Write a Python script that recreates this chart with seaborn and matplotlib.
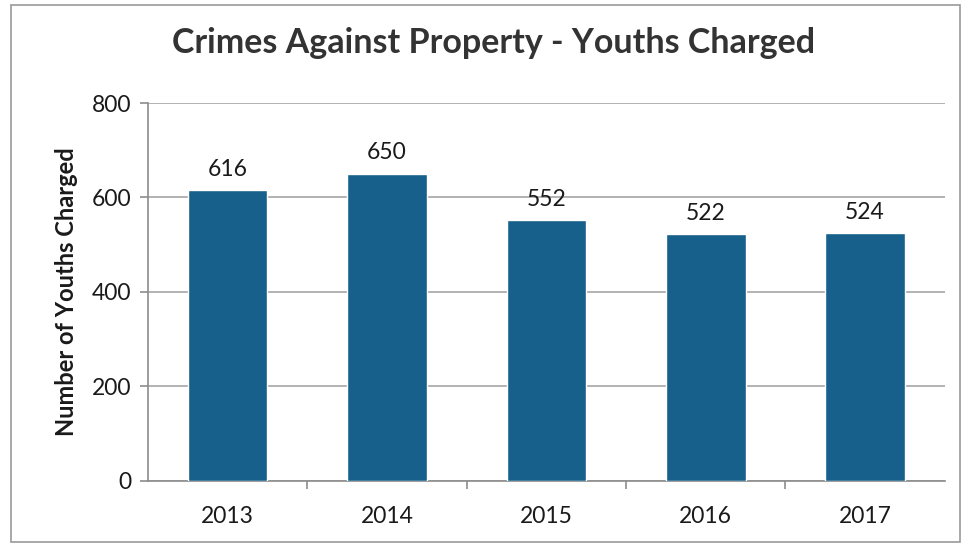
import matplotlib
matplotlib.use("Agg")
import matplotlib.pyplot as plt
import seaborn as sns
import pandas as pd
from matplotlib.patches import Rectangle

years = ["2013", "2014", "2015", "2016", "2017"]
charged = [616, 650, 552, 522, 524]
y_ticks = [0, 200, 400, 600, 800]

df = pd.DataFrame({"Year": years, "Charged": charged})

sns.set_theme(style="white")
plt.rcParams["font.family"] = ["Lato", "DejaVu Sans"]

fig = plt.figure(figsize=(9.64, 5.47), dpi=100)
ax = fig.add_axes([0.1535, 0.1207, 0.8265, 0.691])

sns.barplot(data=df, x="Year", y="Charged", color="#17608c", width=0.5,
            saturation=1, ax=ax, zorder=3)

ax.set_ylim(0, 800)
ax.set_xlim(-0.5, len(years) - 0.5)
ax.set_yticks(y_ticks)
ax.yaxis.grid(True, color="#a6a6a6", linewidth=1.2, zorder=0)
ax.set_axisbelow(True)

for s in ["top", "right"]:
    ax.spines[s].set_visible(False)
for s in ["left", "bottom"]:
    ax.spines[s].set_color("#8c8c8c")
    ax.spines[s].set_linewidth(1.2)

ax.tick_params(axis="y", which="both", left=True, length=6, width=1.2,
               color="#8c8c8c", labelsize=16.5, pad=6, labelcolor="#1a1a1a")
ax.tick_params(axis="x", bottom=False, labelsize=16.5, pad=12, labelcolor="#1a1a1a")
# category boundary ticks on the x axis
ax.set_xticks([i + 0.5 for i in range(len(years) - 1)], minor=True)
ax.tick_params(axis="x", which="minor", bottom=True, length=6, width=1.2,
               color="#8c8c8c")

for i, v in enumerate(charged):
    ax.text(i, v + 22, str(v), ha="center", va="bottom", fontsize=16.5,
            color="#1a1a1a")

ax.set_xlabel("")
ax.set_ylabel("Number of Youths Charged", fontsize=17, fontweight="bold",
              color="#1a1a1a", labelpad=10)

fig.suptitle("Crimes Against Property - Youths Charged", x=0.512, y=0.95,
             fontsize=24.5, fontweight="bold", color="#333333")

# outer chart border
fig.patches.append(Rectangle((0.011, 0.01), 0.985, 0.98, transform=fig.transFigure,
                             fill=False, edgecolor="#9a9a9a", linewidth=1.2))

fig.savefig("out.png", dpi=100)
